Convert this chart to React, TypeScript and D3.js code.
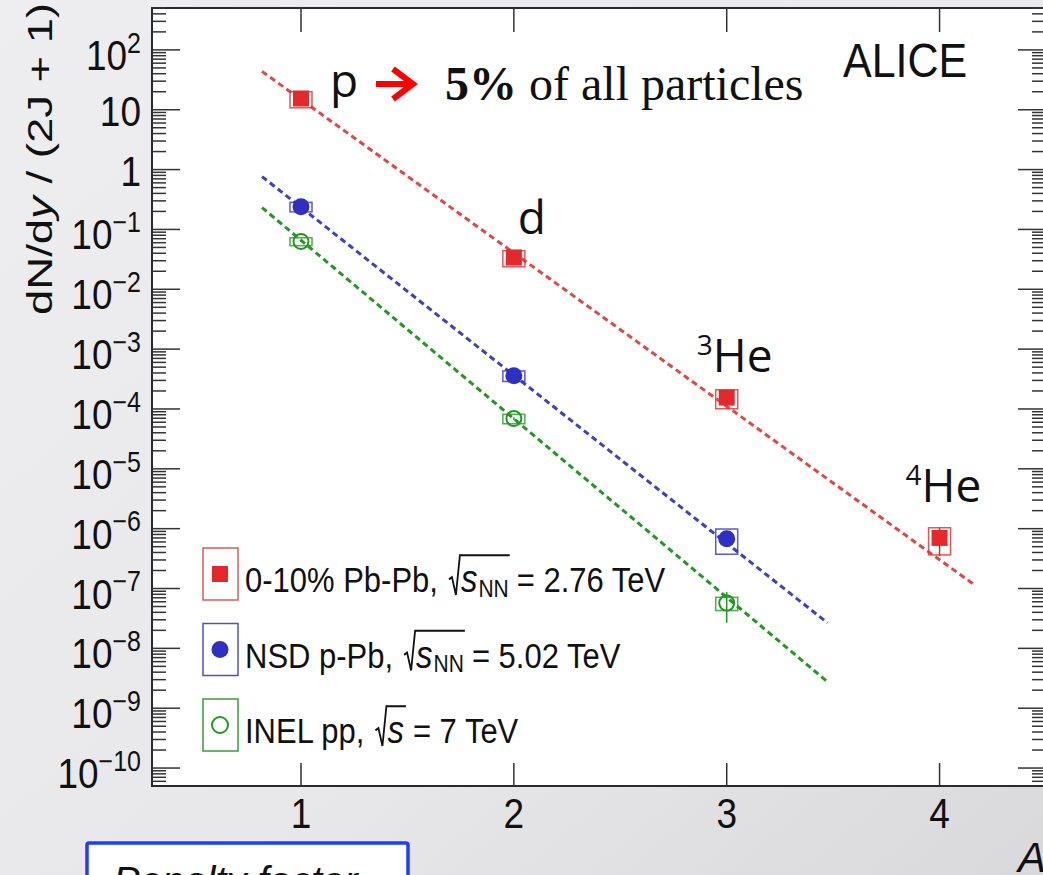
import React, { useEffect, useRef } from "react";
import * as d3 from "d3";

// mass number A on the x axis
const massNumbers = [1, 2, 3, 4];

// 0-10% Pb-Pb (p, d, 3He, 4He)
const pbpbYield = [15.4, 0.034, 1.55e-4, 7.0e-7];
const pbpbSys = [0.3, 0.3, 0.35, 0.48];
const pbpbStat = [0.03, 0.04, 0.1, 0.5];

// NSD p-Pb (p, d, 3He)
const ppbYield = [0.24, 3.6e-4, 6.8e-7];
const ppbSys = [0.18, 0.2, 0.45];
const ppbStat = [0.02, 0.04, 0.1];

// INEL pp (p, d, 3He)
const ppYield = [0.063, 6.9e-5, 5.7e-8];
const ppSys = [0.15, 0.18, 0.25];
const ppStat = [0.02, 0.05, 0.53];

// dashed exponential fits, end points
const pbpbFitA = [0.817, 4.164];
const pbpbFitY = [43.7, 1.15e-7];
const ppbFitA = [0.817, 3.474];
const ppbFitY = [0.764, 2.66e-8];
const ppFitA = [0.817, 3.474];
const ppFitY = [0.232, 2.75e-9];

const xTicks = [1, 2, 3, 4];
const yTickExponents = [2, 1, 0, -1, -2, -3, -4, -5, -6, -7, -8, -9, -10];

const legendLabels = ["0-10% Pb-Pb,", "NSD p-Pb,", "INEL pp,"];
const legendSubs = ["NN", "NN", ""];
const legendEnergies = ["2.76 TeV", "5.02 TeV", "7 TeV"];

const particleNames = ["p", "d", "He", "He"];
const particleSups = ["", "", "3", "4"];

const W = 1043;
const H = 875;
const frame = { left: 152, right: 1046, top: 8, bottom: 786 };
const sans = "'Liberation Sans', Arial, Helvetica, sans-serif";

const App: React.FC = () => {
  const svgRef = useRef<SVGSVGElement>(null);

  useEffect(() => {
    const svg = d3.select(svgRef.current);
    svg.selectAll("*").remove();

    const xScale = d3
      .scaleLinear()
      .domain([0.3, 4.5])
      .range([frame.left, frame.right]);
    const yScale = d3
      .scaleLog()
      .domain([Math.pow(10, -10.3), Math.pow(10, 2.7)])
      .range([frame.bottom, frame.top]);

    // slide background
    const defs = svg.append("defs");
    const grad = defs
      .append("linearGradient")
      .attr("id", "bg")
      .attr("x1", "0")
      .attr("y1", "0")
      .attr("x2", "1")
      .attr("y2", "1");
    grad.append("stop").attr("offset", "0%").attr("stop-color", "#eeeef0");
    grad.append("stop").attr("offset", "60%").attr("stop-color", "#e8e8ea");
    grad.append("stop").attr("offset", "100%").attr("stop-color", "#d9d9db");
    svg.append("rect").attr("width", W).attr("height", H).attr("fill", "url(#bg)");

    // plot frame
    svg
      .append("rect")
      .attr("x", frame.left)
      .attr("y", frame.top)
      .attr("width", frame.right - frame.left)
      .attr("height", frame.bottom - frame.top)
      .attr("fill", "#ffffff")
      .attr("stroke", "#2a2a2a")
      .attr("stroke-width", 2);

    const axes = svg.append("g").attr("stroke", "#333").attr("stroke-width", 1.5);

    // y ticks, both sides, log minor ticks
    const [lo, hi] = yScale.domain();
    for (let e = -11; e <= 3; e++) {
      for (let m = 1; m <= 9; m++) {
        const v = m * Math.pow(10, e);
        if (v < lo || v > hi) continue;
        const y = yScale(v);
        const len = m === 1 ? 28 : 14;
        axes.append("line").attr("x1", frame.left).attr("x2", frame.left + len).attr("y1", y).attr("y2", y);
        axes.append("line").attr("x1", frame.right).attr("x2", frame.right - len).attr("y1", y).attr("y2", y);
      }
    }

    // x ticks top and bottom
    xTicks.forEach((t) => {
      const x = xScale(t);
      axes.append("line").attr("x1", x).attr("x2", x).attr("y1", frame.bottom).attr("y2", frame.bottom - 23);
      axes.append("line").attr("x1", x).attr("x2", x).attr("y1", frame.top).attr("y2", frame.top + 24);
      svg
        .append("g")
        .attr("transform", `translate(${x},828) scale(1,1.15)`)
        .append("text")
        .attr("text-anchor", "middle")
        .attr("font-family", sans)
        .attr("font-size", 37)
        .attr("fill", "#111")
        .text(t);
    });

    // y tick labels
    yTickExponents.forEach((e) => {
      const y = yScale(Math.pow(10, e));
      const plain = e === 0 || e === 1;
      const t = svg
        .append("g")
        .attr("transform", `translate(141,${y + (plain ? 16 : 20)}) scale(1,1.15)`)
        .append("text")
        .attr("text-anchor", "end")
        .attr("font-family", sans)
        .attr("font-size", 37)
        .attr("fill", "#111");
      if (plain) {
        t.text(e === 0 ? "1" : "10");
      } else {
        t.append("tspan").text("10");
        t.append("tspan")
          .attr("font-size", 25)
          .attr("dy", -15)
          .text(e < 0 ? `\u2212${-e}` : `${e}`);
      }
    });

    // y axis title
    const yt = svg
      .append("text")
      .attr("transform", "translate(52,315) scale(1,1.3) rotate(-90)")
      .attr("font-family", sans)
      .attr("font-size", 35)
      .attr("fill", "#111");
    yt.append("tspan").text("dN/d");
    yt.append("tspan").attr("font-style", "italic").text("y");
    yt.append("tspan").text(" / (2J + 1)");

    // x axis title (cut at the edge)
    svg
      .append("text")
      .attr("x", 1018)
      .attr("y", 872)
      .attr("font-family", sans)
      .attr("font-style", "italic")
      .attr("font-size", 42)
      .attr("fill", "#111")
      .text("A");

    const series = [
      { yields: pbpbYield, sys: pbpbSys, stat: pbpbStat, fitA: pbpbFitA, fitY: pbpbFitY, color: "#e3292b", line: "#e04848", marker: "square" },
      { yields: ppbYield, sys: ppbSys, stat: ppbStat, fitA: ppbFitA, fitY: ppbFitY, color: "#2f2fc4", line: "#4040c0", marker: "circle" },
      { yields: ppYield, sys: ppSys, stat: ppStat, fitA: ppFitA, fitY: ppFitY, color: "#1f9a1f", line: "#1f9a1f", marker: "open" },
    ];

    // fit lines
    series.forEach((s) => {
      const pts: [number, number][] = s.fitA.map((a, i) => [xScale(a), yScale(s.fitY[i])]);
      svg
        .append("path")
        .attr("d", d3.line()(pts))
        .attr("fill", "none")
        .attr("stroke", s.line)
        .attr("stroke-width", 3)
        .attr("stroke-dasharray", "6,4");
    });

    // points with systematic boxes and stat bars
    series.forEach((s) => {
      const g = svg.append("g");
      s.yields.forEach((v, i) => {
        const x = xScale(massNumbers[i]);
        const y = yScale(v);
        const top = yScale(v * (1 + s.sys[i]));
        const bot = yScale(v * (1 - s.sys[i]));
        g.append("rect")
          .attr("x", x - 11)
          .attr("y", top)
          .attr("width", 22)
          .attr("height", bot - top)
          .attr("fill", "none")
          .attr("stroke", s.color)
          .attr("stroke-opacity", 0.8)
          .attr("stroke-width", 1.5);
        g.append("line")
          .attr("x1", x)
          .attr("x2", x)
          .attr("y1", yScale(v * (1 + s.stat[i])))
          .attr("y2", yScale(v * (1 - s.stat[i])))
          .attr("stroke", s.color)
          .attr("stroke-width", 1.5);
        if (s.marker === "square") {
          g.append("rect")
            .attr("x", x - 8)
            .attr("y", y - 8)
            .attr("width", 16)
            .attr("height", 16)
            .attr("fill", s.color);
        } else if (s.marker === "circle") {
          g.append("circle").attr("cx", x).attr("cy", y).attr("r", 8.5).attr("fill", s.color);
        } else {
          g.append("circle")
            .attr("cx", x)
            .attr("cy", y)
            .attr("r", 7.5)
            .attr("fill", "none")
            .attr("stroke", s.color)
            .attr("stroke-width", 2);
        }
      });
    });

    // legend
    const legendColors = ["#e05a5a", "#5050c4", "#35a035"];
    legendLabels.forEach((label, i) => {
      const cy = 574 + i * 75.5;
      const s = series[i];
      svg
        .append("rect")
        .attr("x", 203)
        .attr("y", cy - 26)
        .attr("width", 35)
        .attr("height", 52)
        .attr("fill", "none")
        .attr("stroke", legendColors[i])
        .attr("stroke-width", 1.5);
      if (s.marker === "square") {
        svg.append("rect").attr("x", 212).attr("y", cy - 8).attr("width", 16).attr("height", 16).attr("fill", s.color);
      } else if (s.marker === "circle") {
        svg.append("circle").attr("cx", 220).attr("cy", cy).attr("r", 8.5).attr("fill", s.color);
      } else {
        svg
          .append("circle")
          .attr("cx", 220)
          .attr("cy", cy)
          .attr("r", 8)
          .attr("fill", "none")
          .attr("stroke", s.color)
          .attr("stroke-width", 2);
      }

      const g = svg
        .append("g")
        .attr("transform", `translate(245,${cy + 18}) scale(1,1.15)`)
        .attr("font-family", sans)
        .attr("fill", "#111");
      let cx = 0;
      const t1 = g.append("text").attr("x", cx).attr("font-size", 31).text(label);
      cx += (t1.node() as SVGTextElement).getComputedTextLength() + 11;
      const rx = cx;
      cx += 12;
      const ts = g
        .append("text")
        .attr("x", cx)
        .attr("font-size", 33)
        .attr("font-style", "italic")
        .text("s");
      cx += (ts.node() as SVGTextElement).getComputedTextLength() + 1;
      if (legendSubs[i]) {
        const tn = g.append("text").attr("x", cx).attr("y", 4).attr("font-size", 21).text(legendSubs[i]);
        cx += (tn.node() as SVGTextElement).getComputedTextLength();
      }
      const topY = -32;
      g.append("path")
        .attr("d", `M${rx},-11 L${rx + 3},-13 L${rx + 7},2.5 L${rx + 11},${topY} L${cx + 1},${topY}`)
        .attr("fill", "none")
        .attr("stroke", "#111")
        .attr("stroke-width", 1.8);
      cx += 8;
      g.append("text")
        .attr("x", cx)
        .attr("font-size", 31)
        .text(`= ${legendEnergies[i]}`);
    });

    // ALICE tag
    svg
      .append("g")
      .attr("transform", "translate(843,77) scale(1,1.12)")
      .append("text")
      .attr("font-family", sans)
      .attr("font-size", 43)
      .attr("fill", "#111")
      .text("ALICE");

    // particle annotations (slide overlay)
    const labelOffsets: [number, number][] = [
      [29, -2],
      [4, -23],
      [-30, -26],
      [-34, -36],
    ];
    particleNames.forEach((name, i) => {
      const x = xScale(massNumbers[i]) + labelOffsets[i][0];
      const y = yScale(pbpbYield[i]) + labelOffsets[i][1];
      const t = svg
        .append("text")
        .attr("x", x)
        .attr("y", y)
        .attr("font-family", "'Open Sans', 'Noto Sans', sans-serif")
        .attr("font-size", 46)
        .attr("fill", "#111");
      if (particleSups[i]) {
        t.append("tspan").attr("font-size", 28).attr("dy", -17).text(particleSups[i]);
        t.append("tspan").attr("dy", 17).text(name);
      } else {
        t.text(name);
      }
    });

    // red arrow and "5% of all particles"
    svg
      .append("path")
      .attr("d", "M376,84 L412,84 M393,69 L413,84 L393,99")
      .attr("fill", "none")
      .attr("stroke", "#ff0000")
      .attr("stroke-width", 6)
      .attr("stroke-linejoin", "miter");
    const pt = svg
      .append("text")
      .attr("x", 445)
      .attr("y", 100)
      .attr("font-family", "'Liberation Serif', 'Times New Roman', serif")
      .attr("font-size", 48)
      .attr("fill", "#111");
    pt.append("tspan").attr("font-weight", "bold").text("5%");
    pt.append("tspan").text(" of all particles");

    // "Penalty factor" box, cut off at the bottom
    svg
      .append("rect")
      .attr("x", 87)
      .attr("y", 843)
      .attr("width", 321)
      .attr("height", 70)
      .attr("rx", 2)
      .attr("fill", "#ffffff")
      .attr("stroke", "#1f3cff")
      .attr("stroke-width", 3.5);
    svg
      .append("text")
      .attr("x", 113)
      .attr("y", 895)
      .attr("font-family", sans)
      .attr("font-style", "italic")
      .attr("font-size", 40)
      .attr("fill", "#111")
      .text("Penalty factor");
  }, []);

  return (
    <svg
      ref={svgRef}
      width={W}
      height={H}
      style={{ position: "absolute", left: 0, top: 0, display: "block" }}
    ></svg>
  );
};

export default App;
